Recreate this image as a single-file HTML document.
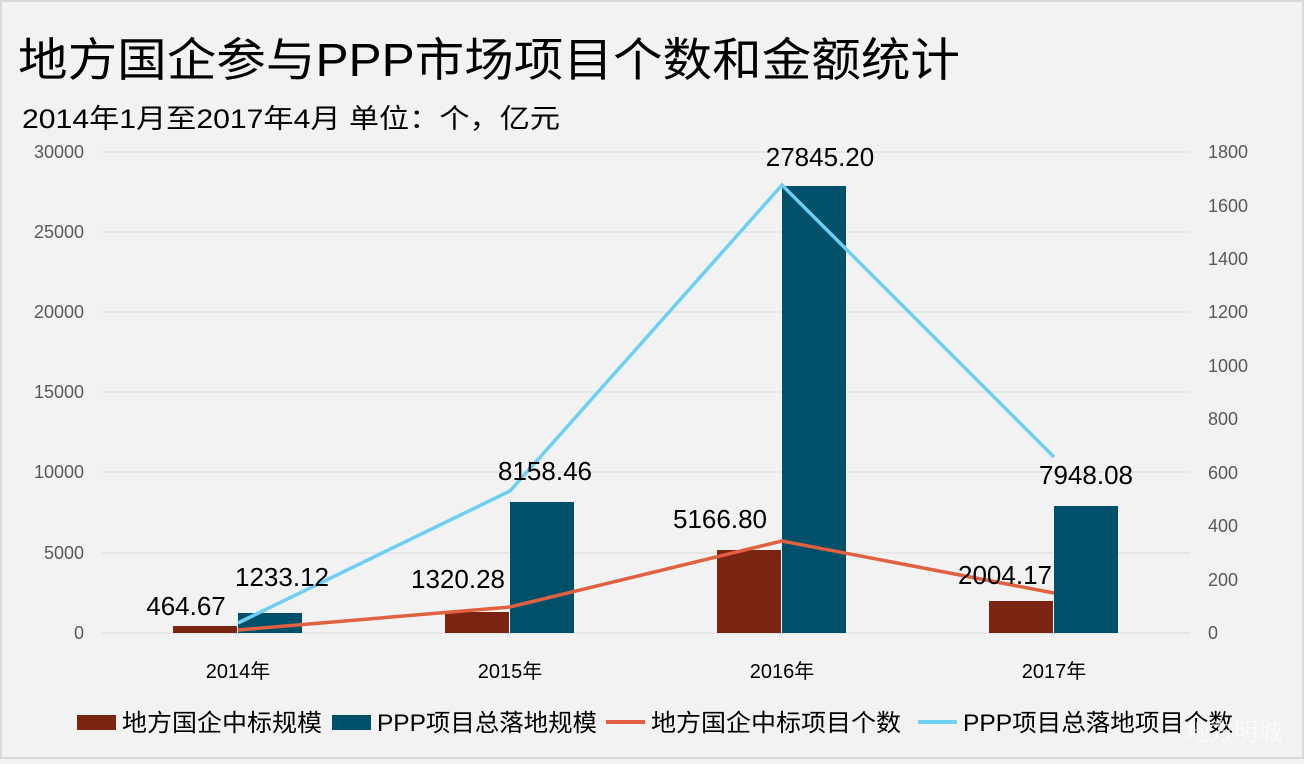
<!DOCTYPE html>
<html><head><meta charset="utf-8"><style>
html,body{margin:0;padding:0;background:#f2f2f2;}
body{width:1304px;height:759px;overflow:hidden;}
</style></head><body>
<svg width="1304" height="759" xmlns="http://www.w3.org/2000/svg" font-family="Liberation Sans, Noto Sans CJK SC, sans-serif">
<rect x="1" y="1" width="1302" height="757" fill="#f2f2f2" stroke="#d9d9d9" stroke-width="2"/>
<text x="18" y="76" font-size="46" fill="#000" textLength="942" lengthAdjust="spacingAndGlyphs">地方国企参与PPP市场项目个数和金额统计</text>
<text x="22" y="128" font-size="27" fill="#000" textLength="538" lengthAdjust="spacingAndGlyphs">2014年1月至2017年4月  单位：个，亿元</text>
<g stroke="#d9d9d9" stroke-width="1">
<line x1="102" x2="1190" y1="152" y2="152"/><line x1="102" x2="1190" y1="232" y2="232"/>
<line x1="102" x2="1190" y1="312" y2="312"/><line x1="102" x2="1190" y1="392" y2="392"/>
<line x1="102" x2="1190" y1="472" y2="472"/><line x1="102" x2="1190" y1="553" y2="553"/>
<line x1="102" x2="1190" y1="633" y2="633"/>
</g>
<g font-size="18" fill="#595959" text-anchor="end">
<text x="84" y="158">30000</text><text x="84" y="238">25000</text><text x="84" y="318">20000</text>
<text x="84" y="398">15000</text><text x="84" y="478">10000</text><text x="84" y="559">5000</text><text x="84" y="639">0</text>
</g>
<g font-size="18" fill="#595959">
<text x="1208" y="158">1800</text><text x="1208" y="212">1600</text><text x="1208" y="265">1400</text>
<text x="1208" y="318">1200</text><text x="1208" y="372">1000</text><text x="1208" y="425">800</text>
<text x="1208" y="479">600</text><text x="1208" y="532">400</text><text x="1208" y="586">200</text><text x="1208" y="639">0</text>
</g>
<g fill="#7a2511">
<rect x="173" y="626" width="64" height="7"/><rect x="445" y="612" width="64" height="21"/>
<rect x="717" y="550" width="64" height="83"/><rect x="989" y="601" width="64" height="32"/>
</g>
<g fill="#005069">
<rect x="238" y="613" width="64" height="20"/><rect x="510" y="502" width="64" height="131"/>
<rect x="782" y="186" width="64" height="447"/><rect x="1054" y="506" width="64" height="127"/>
</g>
<polyline points="238,630 510,607 782,541 1054,593" fill="none" stroke="#e06040" stroke-width="3.5"/>
<polyline points="238,623 510,491 782,185 1054,457" fill="none" stroke="#6ccff3" stroke-width="3.5"/>
<g font-size="26" fill="#000" text-anchor="middle">
<text x="186" y="615">464.67</text><text x="282" y="586">1233.12</text>
<text x="458" y="588">1320.28</text><text x="545" y="480">8158.46</text>
<text x="720" y="528">5166.80</text><text x="820" y="166">27845.20</text>
<text x="1005" y="584">2004.17</text><text x="1086" y="484">7948.08</text>
</g>
<g font-size="20" fill="#000" text-anchor="middle">
<text x="238" y="678">2014年</text><text x="510" y="678">2015年</text>
<text x="782" y="678">2016年</text><text x="1054" y="678">2017年</text>
</g>
<g font-size="24" fill="#000">
<rect x="77" y="715" width="39" height="15" fill="#7a2511"/><text x="122" y="731" textLength="200" lengthAdjust="spacingAndGlyphs">地方国企中标规模</text>
<rect x="332" y="715" width="39" height="15" fill="#005069"/><text x="377" y="731" textLength="220" lengthAdjust="spacingAndGlyphs">PPP项目总落地规模</text>
<rect x="606" y="720" width="39" height="4" fill="#e06040"/><text x="651" y="731" textLength="250" lengthAdjust="spacingAndGlyphs">地方国企中标项目个数</text>
<rect x="918" y="720" width="39" height="4" fill="#6ccff3"/><text x="963" y="731" textLength="270" lengthAdjust="spacingAndGlyphs">PPP项目总落地项目个数</text>
</g>
<text x="1282" y="740" font-size="24" fill="#ffffff" fill-opacity="0.6" text-anchor="end">地方明城</text>
</svg>
</body></html>
